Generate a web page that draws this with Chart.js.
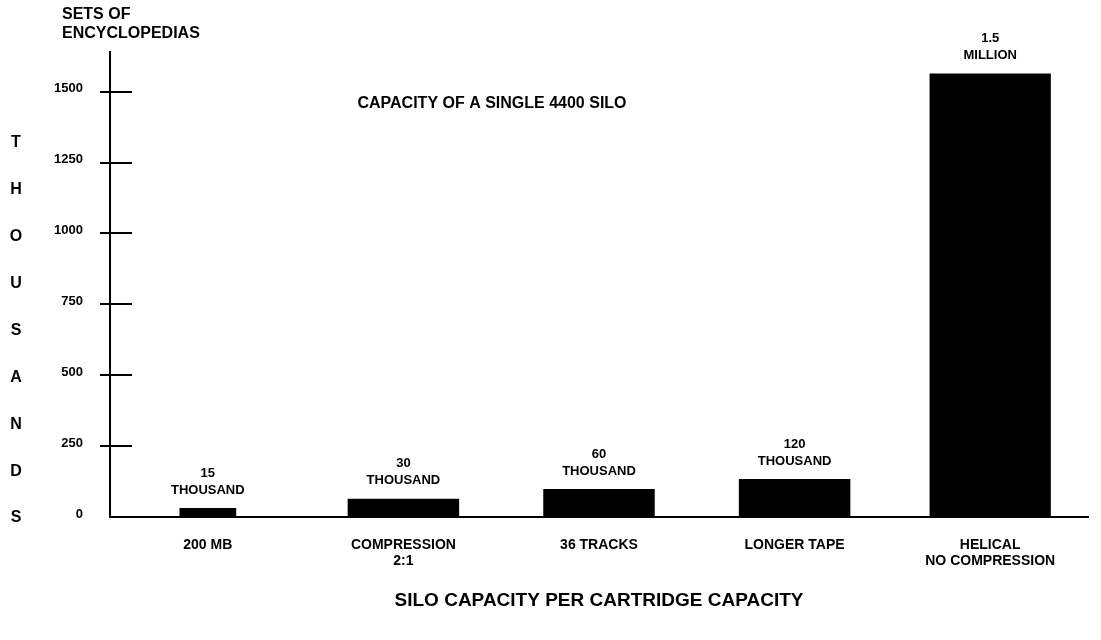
<!DOCTYPE html>
<html>
<head>
<meta charset="utf-8">
<script src="https://cdn.jsdelivr.net/npm/chart.js@4/dist/chart.umd.min.js"></script>
<style>
  html, body { margin: 0; padding: 0; background: #fff; }
  #wrap { position: relative; width: 1101px; height: 640px; }
</style>
</head>
<body>
<div id="wrap"><canvas id="silo" width="1101" height="640"></canvas></div>
<script>
// data
const categories = ["200 MB", ["COMPRESSION", "2:1"], "36 TRACKS", "LONGER TAPE", ["HELICAL", "NO COMPRESSION"]];
const setsThousands = [32, 64, 99, 134, 1564];
const barLabels = [["15", "THOUSAND"], ["30", "THOUSAND"], ["60", "THOUSAND"], ["120", "THOUSAND"], ["1.5", "MILLION"]];
const yTickValues = [0, 250, 500, 750, 1000, 1250, 1500];
const sideLetters = ["T", "H", "O", "U", "S", "A", "N", "D", "S"];

// styling
const FONT = "'Liberation Sans', Arial, sans-serif";
const barPct = [0.29, 0.57, 0.57, 0.57, 0.62];
const AXIS_LEFT = 110;
const PLOT_TOP = 52;
const PLOT_BOTTOM = 517;

const datasets = setsThousands.map((v, i) => ({
    data: setsThousands.map((_, j) => (j === i ? v : null)),
    backgroundColor: "#000",
    borderWidth: 0,
    barPercentage: barPct[i],
    categoryPercentage: 1,
    grouped: false,
    skipNull: true
}));

const annotate = {
    id: "annotate",
    afterDraw(chart) {
        const ctx = chart.ctx;
        const y = chart.scales.y;
        ctx.save();
        ctx.fillStyle = "#000";
        ctx.strokeStyle = "#000";

        // tick marks crossing the y axis
        ctx.lineWidth = 2;
        yTickValues.forEach(v => {
            if (v === 0) return;
            const py = Math.round(y.getPixelForValue(v));
            ctx.beginPath();
            ctx.moveTo(AXIS_LEFT - 10, py);
            ctx.lineTo(AXIS_LEFT + 22, py);
            ctx.stroke();
        });

        // labels over the bars
        ctx.textAlign = "center";
        ctx.textBaseline = "middle";
        ctx.font = "bold 13px " + FONT;
        barLabels.forEach((lines, i) => {
            const bar = chart.getDatasetMeta(i).data[i];
            if (!bar) return;
            const bottomLine = bar.y - 18;
            ctx.fillText(lines[1], bar.x, bottomLine);
            ctx.fillText(lines[0], bar.x, bottomLine - 17);
        });

        // stacked THOUSANDS down the left side
        ctx.font = "bold 16px " + FONT;
        const top = 143, bottom = 518;
        const step = (bottom - top) / (sideLetters.length - 1);
        sideLetters.forEach((ch, i) => ctx.fillText(ch, 16, top + i * step));

        // unit caption and inset title
        ctx.textAlign = "left";
        ctx.font = "bold 16px " + FONT;
        ctx.fillText("SETS OF", 62, 15);
        ctx.fillText("ENCYCLOPEDIAS", 62, 34);

        ctx.textAlign = "center";
        ctx.font = "bold 16px " + FONT;
        ctx.fillText("CAPACITY OF A SINGLE 4400 SILO", 492, 104);
        ctx.restore();
    }
};

new Chart(document.getElementById("silo"), {
    type: "bar",
    data: { labels: categories, datasets },
    plugins: [annotate],
    options: {
        responsive: false,
        animation: false,
        devicePixelRatio: 1,
        layout: { padding: { top: PLOT_TOP, left: 0, right: 13, bottom: 0 } },
        plugins: { legend: { display: false }, tooltip: { enabled: false } },
        scales: {
            x: {
                offset: true,
                grid: { display: false, drawTicks: false },
                border: { display: true, color: "#000", width: 2 },
                ticks: {
                    color: "#000",
                    padding: 20,
                    maxRotation: 0,
                    autoSkip: false,
                    font: { family: FONT, size: 14, weight: "bold", lineHeight: 1.15 }
                },
                title: {
                    display: true,
                    text: "SILO CAPACITY PER CARTRIDGE CAPACITY",
                    color: "#000",
                    font: { family: FONT, size: 19, weight: "bold" },
                    padding: { top: 0, bottom: 28 }
                },
                afterFit(scale) { scale.height = 640 - PLOT_BOTTOM; }
            },
            y: {
                min: 0,
                max: 1640,
                grid: { display: false, drawTicks: false },
                border: { display: true, color: "#000", width: 2 },
                ticks: {
                    color: "#000",
                    padding: 27,
                    labelOffset: -3,
                    font: { family: FONT, size: 13, weight: "bold" },
                    callback: v => String(v)
                },
                afterBuildTicks(scale) { scale.ticks = yTickValues.map(v => ({ value: v })); },
                afterFit(scale) { scale.width = AXIS_LEFT; }
            }
        }
    }
});
</script>
</body>
</html>
